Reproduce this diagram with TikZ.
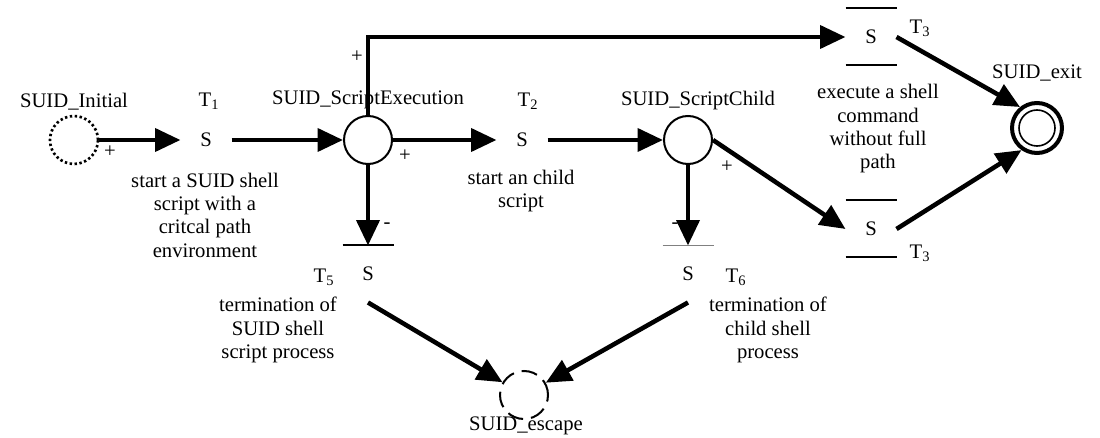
\documentclass[tikz,border=0pt]{standalone}
\usepackage{fontspec}
\setmainfont{Liberation Serif}
\usetikzlibrary{arrows.meta}

\tikzset{every picture/.style={line width=0.75pt}}
\tikzset{
  place/.style={draw, circle, minimum size=36pt, inner sep=0pt, line width=1.5},
  trans/.style={minimum width=37.5pt, minimum height=42pt, inner sep=0pt},
  arc/.style={line width=3.4, -{Triangle[length=19pt 0,width=17pt 0]}},
  bar/.style={line width=1.5},
}

\begin{document}
\begin{tikzpicture}[x=0.75pt,y=0.75pt,yscale=-1,xscale=1,font=\fontsize{15.5}{17.5}\selectfont]
\path[use as bounding box] (0,0) rectangle (1100,438);

%Places
\draw (74,140) node [place, line width=2, dash pattern=on 1.8pt off 1.9pt] (init) {};
\draw (368,140) node [place] (exec) {};
\draw (688,140) node [place] (child) {};
\draw (524,395) node [place, dash pattern=on 12pt off 6pt] (esc) {};
\draw (1037,128) node [place, line width=3, minimum size=37.5pt] (exit) {};
\draw [line width=1.2] (exit.center) circle [radius=13.5pt];

%Transitions
\draw (206,140) node [trans] (t1) {S};
\draw (522,140) node [trans] (t2) {S};
\draw (871,37) node [trans] (t3a) {S};
\draw (871,229) node [trans] (t3b) {S};
\draw (368,274) node [trans] (t5) {S};
\draw (688,274) node [trans] (t6) {S};
\draw [bar] (t3a.north west) -- (t3a.north east);
\draw [bar] (t3a.south west) -- (t3a.south east);
\draw [bar] (t3b.north west) -- (t3b.north east);
\draw [bar] (t3b.south west) -- (t3b.south east);
\draw [bar] (t5.north west) -- (t5.north east);
\draw [line width=0.75, gray] (t6.north west) -- (t6.north east);

%Arcs
\draw [arc] (init) -- (t1);
\draw [arc] (t1) -- (exec);
\draw [arc] (exec) -- (t2);
\draw [arc] (t2) -- (child);
\draw [arc] (exec) -- (t5);
\draw [arc] (child) -- (t6);
\draw [arc] (exec.north) |- (t3a);
\draw [arc] (child.east) -- (t3b.west);
\draw [arc] (t3a.east) -- (exit.129);
\draw [arc] (t3b.east) -- (exit.235);
\draw [arc] (t5.south) -- (esc);
\draw [arc] (t6.south) -- (esc);

% Text Node
\draw (74,102) node [inner sep=0.75pt] (lblinit) {SUID\_Initial};
% Text Node
\draw (368,100) node [inner sep=0.75pt] (lblexec) {SUID\_ScriptExecution};
% Text Node
\draw (698,101) node [inner sep=0.75pt] (lblchild) {SUID\_ScriptChild};
% Text Node
\draw (1037,73) node [inner sep=0.75pt] (lblexit) {SUID\_exit};
% Text Node
\draw (526,426) node [inner sep=0.75pt] (lblesc) {SUID\_escape};
% Text Node
\draw (209,101) node [inner sep=0.75pt] (lblt1) {T\textsubscript{1}};
% Text Node
\draw (528,101) node [inner sep=0.75pt] (lblt2) {T\textsubscript{2}};
% Text Node
\draw (920,28) node [inner sep=0.75pt] (lblt3a) {T\textsubscript{3}};
% Text Node
\draw (920,253) node [inner sep=0.75pt] (lblt3b) {T\textsubscript{3}};
% Text Node
\draw (324,277) node [inner sep=0.75pt] (lblt5) {T\textsubscript{5}};
% Text Node
\draw (736,277) node [inner sep=0.75pt] (lblt6) {T\textsubscript{6}};
% Text Node
\draw (205,215) node [inner sep=0.75pt, align=center] (txtt1) {start a SUID shell\\script with a\\critcal path\\environment};
% Text Node
\draw (521,191) node [inner sep=0.75pt, align=center] (txtt2) {start an child\\script};
% Text Node
\draw (878,129) node [inner sep=0.75pt, align=center] (txtt3) {execute a shell\\command\\without full\\path};
% Text Node
\draw (278,330) node [inner sep=0.75pt, align=center] (txtt5) {termination of\\SUID shell\\script process};
% Text Node
\draw (768,330) node [inner sep=0.75pt, align=center] (txtt6) {termination of\\child shell\\process};

% Signs
\draw (110,152) node [inner sep=0.75pt] (sgninit) {+};
\draw (357,57) node [inner sep=0.75pt] (sgntop) {+};
\draw (405,156) node [inner sep=0.75pt] (sgnexec) {+};
\draw (387,226) node [inner sep=0.75pt] (sgnexecd) {-};
\draw (675,226) node [inner sep=0.75pt] (sgnchildd) {-};
\draw (727,167) node [inner sep=0.75pt] (sgnchild) {+};
\end{tikzpicture}
\end{document}
